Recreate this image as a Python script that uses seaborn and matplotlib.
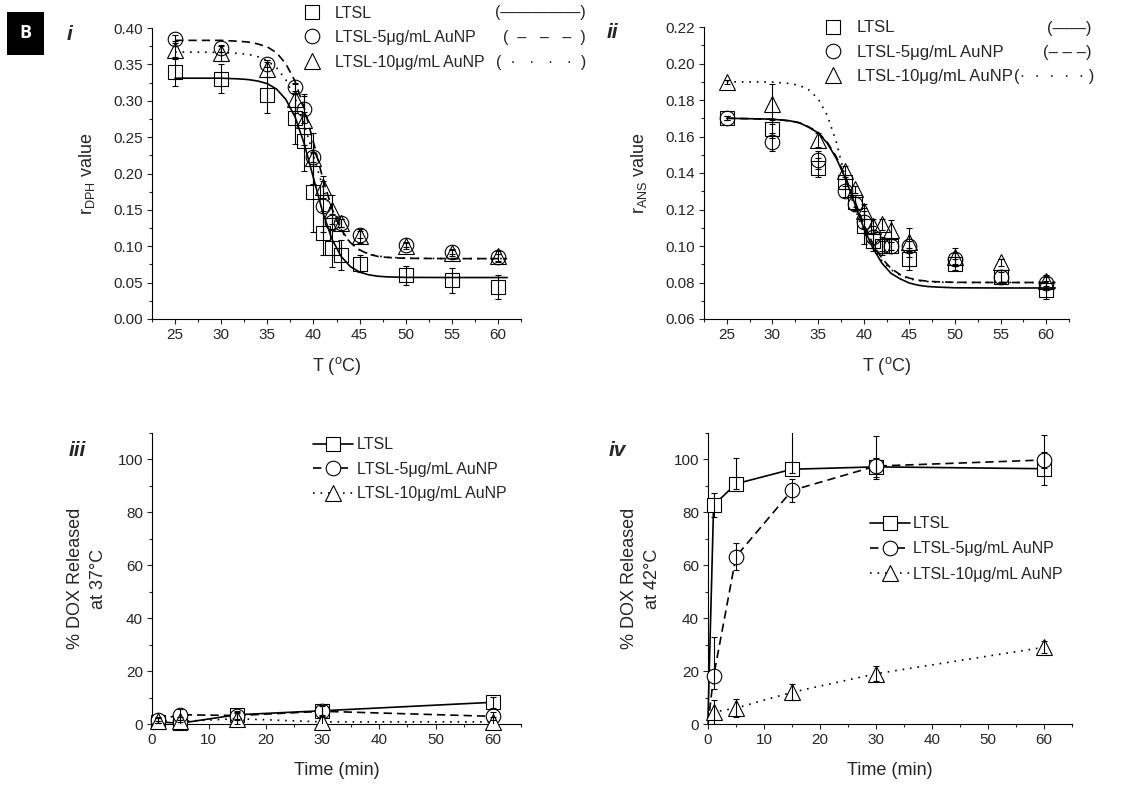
import numpy as np
import pandas as pd
import matplotlib
matplotlib.use("Agg")
import matplotlib.pyplot as plt
import seaborn as sns
from matplotlib.lines import Line2D
from matplotlib.patches import Rectangle
from matplotlib.ticker import MultipleLocator, FormatStrFormatter

# ------------------------------------------------------------------ data
series_names = ["LTSL", "LTSL-5μg/mL AuNP", "LTSL-10μg/mL AuNP"]

# panel i : r_DPH vs T
temps = [25, 30, 35, 38, 39, 40, 41, 42, 43, 45, 50, 55, 60]
dph_ltsl = [0.340, 0.330, 0.308, 0.276, 0.244, 0.175, 0.118, 0.097, 0.088, 0.076, 0.060, 0.053, 0.044]
dph_ltsl_err = [0.020, 0.020, 0.025, 0.035, 0.040, 0.055, 0.030, 0.025, 0.020, 0.012, 0.013, 0.017, 0.017]
dph_au5 = [0.385, 0.372, 0.351, 0.319, 0.288, 0.222, 0.155, 0.134, 0.132, 0.116, 0.102, 0.092, 0.085]
dph_au5_err = [0.005, 0.005, 0.005, 0.005, 0.018, 0.006, 0.035, 0.010, 0.005, 0.005, 0.003, 0.003, 0.005]
dph_au10 = [0.370, 0.365, 0.343, 0.303, 0.274, 0.221, 0.182, 0.150, 0.132, 0.114, 0.101, 0.091, 0.086]
dph_au10_err = [0.012, 0.010, 0.010, 0.020, 0.035, 0.035, 0.015, 0.020, 0.005, 0.010, 0.005, 0.005, 0.008]

# fitted curves
fit_T = [25, 30, 32, 33, 34, 35, 36, 37, 38, 39, 40, 41, 42, 43, 44, 45, 46, 47, 48, 50, 55, 61]
dph_fit_ltsl = [0.331, 0.331, 0.330, 0.329, 0.327, 0.3235, 0.316, 0.302, 0.278, 0.241, 0.194, 0.147,
                0.110, 0.086, 0.072, 0.0645, 0.0607, 0.0588, 0.0579, 0.0572, 0.057, 0.057]
dph_fit_au5 = [0.383, 0.383, 0.3817, 0.3806, 0.378, 0.374, 0.366, 0.351, 0.327, 0.290, 0.243, 0.194,
               0.152, 0.123, 0.105, 0.095, 0.089, 0.086, 0.0846, 0.0834, 0.083, 0.083]
dph_fit_au10 = [0.367, 0.3665, 0.365, 0.3635, 0.3605, 0.355, 0.3455, 0.329, 0.304, 0.268, 0.225, 0.182,
                0.146, 0.121, 0.1045, 0.095, 0.0895, 0.0865, 0.085, 0.0836, 0.083, 0.083]

# panel ii : r_ANS vs T
ans_ltsl = [0.170, 0.164, 0.143, 0.135, 0.124, 0.111, 0.103, 0.100, 0.100, 0.093, 0.090, 0.083, 0.076]
ans_ltsl_err = [0.001, 0.005, 0.005, 0.004, 0.004, 0.010, 0.006, 0.005, 0.004, 0.006, 0.003, 0.003, 0.005]
ans_au5 = [0.170, 0.157, 0.147, 0.130, 0.123, 0.113, 0.105, 0.100, 0.100, 0.100, 0.093, 0.083, 0.080]
ans_au5_err = [0.001, 0.005, 0.005, 0.003, 0.004, 0.006, 0.006, 0.003, 0.002, 0.003, 0.003, 0.004, 0.003]
ans_au10 = [0.190, 0.178, 0.158, 0.141, 0.131, 0.119, 0.111, 0.112, 0.109, 0.102, 0.094, 0.091, 0.081]
ans_au10_err = [0.001, 0.011, 0.004, 0.003, 0.002, 0.004, 0.004, 0.003, 0.005, 0.008, 0.005, 0.002, 0.003]

ans_fit_ltsl = [0.170, 0.1695, 0.1685, 0.1674, 0.165, 0.162, 0.1564, 0.148, 0.137, 0.1235, 0.110, 0.099,
                0.0906, 0.085, 0.082, 0.0797, 0.0785, 0.0778, 0.0775, 0.0771, 0.077, 0.077]
ans_fit_au5 = [0.170, 0.1695, 0.1686, 0.1675, 0.1652, 0.1623, 0.1569, 0.1489, 0.1379, 0.125, 0.1121, 0.1012,
               0.0932, 0.0877, 0.0843, 0.0824, 0.0813, 0.0807, 0.0804, 0.0801, 0.080, 0.080]
ans_fit_au10 = [0.190, 0.1898, 0.189, 0.1879, 0.1855, 0.1807, 0.1717, 0.157, 0.1371, 0.121, 0.108, 0.099,
                0.092, 0.087, 0.084, 0.082, 0.081, 0.0805, 0.0802, 0.080, 0.080, 0.080]

# panel iii : % DOX released at 37 C
time37 = [1, 5, 15, 30, 60]
rel37_ltsl = [0.8, 0.3, 3.5, 5.0, 8.2]
rel37_ltsl_err = [0.5, 0.5, 1.5, 2.0, 2.0]
rel37_au5 = [1.5, 3.5, 3.2, 4.8, 2.9]
rel37_au5_err = [1.0, 2.0, 1.5, 2.0, 1.5]
rel37_au10 = [1.2, 1.0, 2.0, 0.8, 0.8]
rel37_au10_err = [1.0, 1.5, 2.0, 2.5, 2.0]

# panel iv : % DOX released at 42 C
time42 = [0, 1, 5, 15, 30, 60]
rel42_ltsl = [2.0, 82.7, 90.8, 96.3, 97.2, 96.5]
rel42_ltsl_lo = [0, 4.5, 2.0, 1.5, 4.5, 6.3]
rel42_ltsl_hi = [0, 4.5, 9.8, 15.0, 3.5, 6.3]
rel42_au5 = [0.0, 18.0, 63.3, 88.3, 97.5, 99.8]
rel42_au5_lo = [0, 4.6, 5.0, 4.3, 4.0, 3.0]
rel42_au5_hi = [0, 15.0, 5.0, 4.3, 11.5, 9.5]
rel42_au10 = [2.0, 4.5, 6.0, 12.0, 19.0, 29.0]
rel42_au10_err = [0, 4.5, 3.5, 3.0, 2.8, 2.2]

# ------------------------------------------------------------------ style
sns.set_style("ticks")
plt.rcParams["font.family"] = ["Liberation Sans", "DejaVu Sans"]
plt.rcParams["mathtext.fontset"] = "custom"
plt.rcParams["mathtext.rm"] = "Liberation Sans"
plt.rcParams["mathtext.it"] = "Liberation Sans:italic"
plt.rcParams["mathtext.bf"] = "Liberation Sans:bold"
plt.rcParams["mathtext.default"] = "regular"
plt.rcParams["axes.linewidth"] = 0.8

W, H = 1129, 792
fig = plt.figure(figsize=(W / 100, H / 100), dpi=100)

TICK_FS = 11
LAB_FS = 13
LEG_FS = 11.5
MS_SQ, MS_CI, MS_TR = 9.5, 10.5, 11.5
MEW = 0.8
LW = 1.2
DOT = (0, (1, 3.5))
DASH = (0, (5, 3))

markers = ["s", "o", "^"]
msizes = [MS_SQ, MS_CI, MS_TR]
styles = ["-", DASH, DOT]


def add_ax(left, top, right, bottom):
    return fig.add_axes([left / W, 1 - bottom / H, (right - left) / W, (bottom - top) / H])


def style_ax(ax, xmaj, xmin, ymaj, ymin, yfmt):
    sns.despine(ax=ax)
    ax.xaxis.set_major_locator(MultipleLocator(xmaj))
    ax.xaxis.set_minor_locator(MultipleLocator(xmin))
    ax.yaxis.set_major_locator(MultipleLocator(ymaj))
    ax.yaxis.set_minor_locator(MultipleLocator(ymin))
    ax.yaxis.set_major_formatter(FormatStrFormatter(yfmt))
    ax.tick_params(which="major", direction="out", length=3.5, width=0.8, labelsize=TICK_FS, pad=3)
    ax.tick_params(which="minor", direction="out", length=2, width=0.8)
    for s in ("left", "bottom"):
        ax.spines[s].set_color("black")


ax1 = add_ax(152, 28, 521, 319)
ax2 = add_ax(704, 27, 1069, 319)
ax3 = add_ax(152, 433, 521, 724)
ax4 = add_ax(708, 433, 1072, 724)

# ------------------------------------------------------------------ panels i and ii
for ax, pts, errs, fits in [
    (ax1, [dph_ltsl, dph_au5, dph_au10], [dph_ltsl_err, dph_au5_err, dph_au10_err],
     [dph_fit_ltsl, dph_fit_au5, dph_fit_au10]),
    (ax2, [ans_ltsl, ans_au5, ans_au10], [ans_ltsl_err, ans_au5_err, ans_au10_err],
     [ans_fit_ltsl, ans_fit_au5, ans_fit_au10]),
]:
    for k in range(3):
        fd = pd.DataFrame({"T": fit_T, "r": fits[k]})
        sns.lineplot(data=fd, x="T", y="r", ax=ax, color="black", linestyle=styles[k],
                     linewidth=LW, estimator=None, sort=False, legend=False, zorder=2)
    for k in range(3):
        ax.errorbar(temps, pts[k], yerr=errs[k], fmt=markers[k], ms=msizes[k], mfc="none",
                    mec="black", mew=MEW, ecolor="black", elinewidth=0.8, capsize=2.5,
                    capthick=0.8, zorder=3)
    ax.set_xlim(22.5, 62.5)
    ax.set_xlabel(r"T ($^{\mathregular{o}}$C)", fontsize=LAB_FS, labelpad=9)

ax1.set_ylim(0.0, 0.40)
ax2.set_ylim(0.06, 0.22)
style_ax(ax1, 5, 2.5, 0.05, 0.025, "%.2f")
style_ax(ax2, 5, 2.5, 0.02, 0.01, "%.2f")
ax1.set_ylabel(r"r$_{\mathregular{DPH}}$ value", fontsize=LAB_FS)
ax2.set_ylabel(r"r$_{\mathregular{ANS}}$ value", fontsize=LAB_FS)
ax1.yaxis.set_label_coords(-0.15, 0.5)
ax2.yaxis.set_label_coords(-0.152, 0.5)

# ------------------------------------------------------------------ panels iii and iv
def release_panel(ax, t, vals, lo, hi, mark_from):
    for k in range(3):
        d = pd.DataFrame({"t": t, "v": vals[k]})
        sns.lineplot(data=d, x="t", y="v", ax=ax, color="black", linestyle=styles[k],
                     linewidth=LW, marker=markers[k], markersize=msizes[k],
                     markerfacecolor="white", markeredgecolor="black", markeredgewidth=MEW,
                     markevery=list(range(mark_from, len(t))), estimator=None, sort=False,
                     legend=False, zorder=3, clip_on=False)
    for k in range(3):
        ax.errorbar(t[mark_from:], vals[k][mark_from:],
                    yerr=[lo[k][mark_from:], hi[k][mark_from:]], fmt="none",
                    ecolor="black", elinewidth=0.8, capsize=2.5, capthick=0.8, zorder=4)
    ax.set_xlim(0, 65)
    ax.set_ylim(0, 110)
    style_ax(ax, 10, 5, 20, 10, "%d")
    ax.set_xlabel("Time (min)", fontsize=LAB_FS, labelpad=11)


release_panel(ax3, time37, [rel37_ltsl, rel37_au5, rel37_au10],
              [rel37_ltsl_err, rel37_au5_err, rel37_au10_err],
              [rel37_ltsl_err, rel37_au5_err, rel37_au10_err], 0)
release_panel(ax4, time42, [rel42_ltsl, rel42_au5, rel42_au10],
              [rel42_ltsl_lo, rel42_au5_lo, rel42_au10_err],
              [rel42_ltsl_hi, rel42_au5_hi, rel42_au10_err], 1)
ax3.set_ylabel("% DOX Released\nat 37°C", fontsize=LAB_FS, linespacing=1.45)
ax4.set_ylabel("% DOX Released\nat 42°C", fontsize=LAB_FS, linespacing=1.45)
ax3.yaxis.set_label_coords(-0.122, 0.5)
ax4.yaxis.set_label_coords(-0.13, 0.5)

# ------------------------------------------------------------------ legends
def place_legend(ax, handles, handle_left, text_left, rows, hlen, fs):
    fs_px = fs * 100 / 72
    pad = (text_left - handle_left) / fs_px - hlen
    spacing = 0.5
    x0 = handle_left
    ytop = rows[0] - 9
    for _ in range(4):
        leg = ax.legend(handles, series_names, loc="upper left",
                        bbox_to_anchor=(x0 / W, 1 - ytop / H), bbox_transform=fig.transFigure,
                        frameon=False, borderpad=0, borderaxespad=0, handlelength=hlen,
                        handletextpad=pad, labelspacing=spacing, fontsize=fs)
        fig.canvas.draw()
        r = fig.canvas.get_renderer()
        ext = [t.get_window_extent(r) for t in leg.get_texts()]
        cen = [H - (e.y0 + e.y1) / 2 for e in ext]
        act = (cen[-1] - cen[0]) / (len(cen) - 1)
        des = (rows[-1] - rows[0]) / (len(rows) - 1)
        spacing += (des - act) / fs_px
        ytop += rows[0] - cen[0]
        x0 += text_left - ext[0].x0
    leg = ax.legend(handles, series_names, loc="upper left",
                    bbox_to_anchor=(x0 / W, 1 - ytop / H), bbox_transform=fig.transFigure,
                    frameon=False, borderpad=0, borderaxespad=0, handlelength=hlen,
                    handletextpad=pad, labelspacing=spacing, fontsize=fs)
    leg.set_zorder(10)
    fig.canvas.draw()
    r = fig.canvas.get_renderer()
    exts = [t.get_window_extent(r) for t in leg.get_texts()]
    return [H - (e.y0 + e.y1) / 2 for e in exts], [e.x1 for e in exts]


mk_handles = [Line2D([], [], linestyle="none", marker=markers[k], ms=msizes[k], mfc="none",
                     mec="black", mew=MEW) for k in range(3)]
ln_handles = [Line2D([], [], linestyle=styles[k], color="black", lw=LW, marker=markers[k],
                     ms=msizes[k], mfc="white", mec="black", mew=MEW) for k in range(3)]

c1, r1 = place_legend(ax1, mk_handles, 304, 335, [13, 38, 62], 1.0, LEG_FS)
c2, r2 = place_legend(ax2, mk_handles, 825, 857, [28, 52, 76], 1.0, 12)
place_legend(ax3, ln_handles, 313, 357, [445, 470, 494], 2.5, LEG_FS)
place_legend(ax4, ln_handles, 870, 913, [524, 549, 574], 2.5, LEG_FS)

paren_i = ["(—————)", "(  –   –   –  )", "(  ·   ·   ·   ·  )"]
for s, c in zip(paren_i, c1):
    fig.text(586 / W, 1 - c / H, s, ha="right", va="center", fontsize=LEG_FS)
paren_ii = ["(——)", "(– – –)"]
for s, c in zip(paren_ii, c2[:2]):
    fig.text(1092 / W, 1 - c / H, s, ha="right", va="center", fontsize=12)
fig.text((r2[2] + 1) / W, 1 - c2[2] / H, "(·  ·  ·  ·  · )", ha="left", va="center", fontsize=12)

# ------------------------------------------------------------------ panel tags
fig.patches.append(Rectangle((7 / W, 1 - 55 / H), 37 / W, 43 / H, transform=fig.transFigure,
                             facecolor="black", edgecolor="none"))
fig.text(25.5 / W, 1 - 33.5 / H, "B", color="white", fontsize=13, fontweight="bold",
         family=["Open Sans", "DejaVu Sans"], ha="center", va="center")
for s, x, y in [("i", 70, 34), ("ii", 612, 33), ("iii", 77, 450), ("iv", 617, 450)]:
    fig.text(x / W, 1 - y / H, s, fontsize=15, fontweight="bold", fontstyle="italic",
             ha="center", va="center")

fig.savefig("out.png", dpi=100)
